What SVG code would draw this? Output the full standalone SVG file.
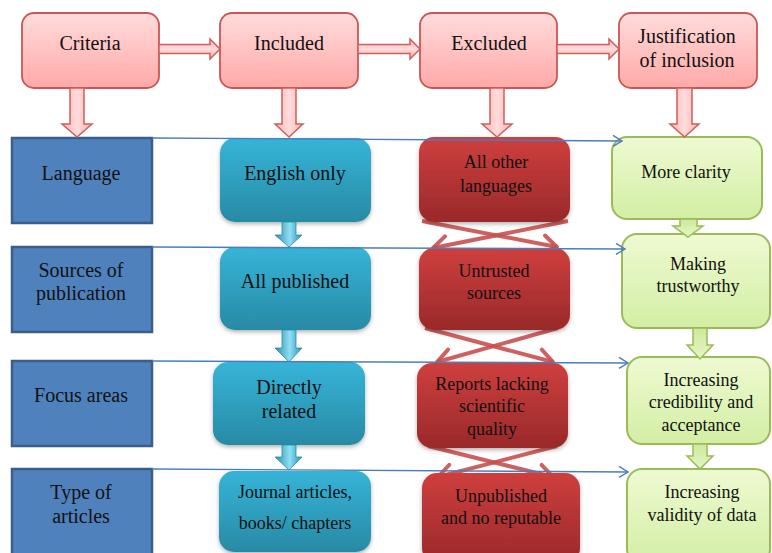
<svg xmlns="http://www.w3.org/2000/svg" width="772" height="553" viewBox="0 0 772 553">
<defs>
<linearGradient id="gPink" x1="0" y1="0" x2="0" y2="1"><stop offset="0" stop-color="#ffdcdc"/><stop offset="1" stop-color="#ffa9a8"/></linearGradient>
<linearGradient id="gPinkA" x1="0" y1="0" x2="1" y2="0"><stop offset="0" stop-color="#ffb4b3"/><stop offset="0.5" stop-color="#ffdcdc"/><stop offset="1" stop-color="#ffb4b3"/></linearGradient>
<linearGradient id="gPinkH" x1="0" y1="0" x2="0" y2="1"><stop offset="0" stop-color="#ffb4b3"/><stop offset="0.5" stop-color="#ffdcdc"/><stop offset="1" stop-color="#ffb4b3"/></linearGradient>
<linearGradient id="gTeal" x1="0" y1="0" x2="0" y2="1"><stop offset="0" stop-color="#36b4d8"/><stop offset="1" stop-color="#288aa5"/></linearGradient>
<linearGradient id="gTealA" x1="0" y1="0" x2="1" y2="0"><stop offset="0" stop-color="#2a8fad"/><stop offset="0.55" stop-color="#8ee0f4"/><stop offset="1" stop-color="#2a8fad"/></linearGradient>
<linearGradient id="gRed" x1="0" y1="0" x2="0" y2="1"><stop offset="0" stop-color="#cf3f3e"/><stop offset="1" stop-color="#99292a"/></linearGradient>
<linearGradient id="gGreen" x1="0" y1="0" x2="0" y2="1"><stop offset="0" stop-color="#eefad2"/><stop offset="1" stop-color="#d3eea4"/></linearGradient>
<linearGradient id="gGreenA" x1="0" y1="0" x2="0" y2="1"><stop offset="0" stop-color="#cde99a"/><stop offset="1" stop-color="#e6f6c4"/></linearGradient>
<filter id="sh" x="-10%" y="-10%" width="120%" height="130%"><feDropShadow dx="0" dy="2" stdDeviation="2" flood-color="#000" flood-opacity="0.3"/></filter>
<marker id="bh" markerUnits="userSpaceOnUse" markerWidth="16" markerHeight="16" viewBox="-12 -8 16 16" refX="0" refY="0" orient="auto"><path d="M-9,-5.5 L0,0 L-9,5.5" fill="none" stroke="#4a7ebb" stroke-width="1.4"/></marker>
<marker id="xh" markerUnits="userSpaceOnUse" markerWidth="26" markerHeight="26" viewBox="-20 -13 26 26" refX="0" refY="0" orient="auto"><path d="M-14,-9 L0,0 L-14,9" fill="none" stroke="#c9504e" stroke-opacity="0.9" stroke-width="4" stroke-linecap="round" stroke-linejoin="round"/></marker>
<style>
.pink{fill:url(#gPink);stroke:#cc5655;stroke-width:1.8}
.pa{fill:url(#gPinkA);stroke:#cf5e5c;stroke-width:1.5}
.pah{fill:url(#gPinkH);stroke:#cf5e5c;stroke-width:1.5}
.blue{fill:#4f81bd;stroke:#3a5e8c;stroke-width:2.5}
.teal{fill:url(#gTeal);filter:url(#sh)}
.ta{fill:url(#gTealA);stroke:#2a8aa5;stroke-width:0.8}
.red{fill:url(#gRed);filter:url(#sh)}
.green{fill:url(#gGreen);stroke:#9bbb59;stroke-width:2}
.ga{fill:url(#gGreenA);stroke:#9bbb59;stroke-width:1.5}
.bl{fill:none;stroke:#4a7ebb;stroke-width:1.4;marker-end:url(#bh)}
.xl{fill:none;stroke:#c9504e;stroke-opacity:0.9;stroke-width:4;marker-end:url(#xh)}
text{font-family:"Liberation Serif","Times New Roman",Times,Tinos,"Noto Serif","DejaVu Serif",FreeSerif,serif;fill:#111;text-anchor:middle}
.t20{font-size:20px}
.t18{font-size:18px}
</style>
</defs>
<rect width="772" height="553" fill="#ffffff"/>

<g id="connectors-under">
<line class="xl" x1="422" y1="221" x2="557" y2="247"/>
<line class="xl" x1="568" y1="221" x2="433" y2="248"/>
<line class="xl" x1="425" y1="328" x2="553" y2="362"/>
<line class="xl" x1="558" y1="328" x2="437" y2="362"/>
<line class="xl" x1="428" y1="446" x2="553" y2="477"/>
<line class="xl" x1="557" y1="446" x2="438" y2="477"/>
</g>

<g id="n-criteria"><rect class="pink" x="22" y="13" width="137" height="75" rx="12"/><text class="t20" x="90" y="50">Criteria</text></g>
<g id="n-included"><rect class="pink" x="220" y="13" width="138" height="75" rx="12"/><text class="t20" x="289" y="50">Included</text></g>
<g id="n-excluded"><rect class="pink" x="420" y="13" width="137" height="75" rx="12"/><text class="t20" x="489" y="50">Excluded</text></g>
<g id="n-justification"><rect class="pink" x="619" y="13" width="138" height="75" rx="12"/><text class="t20" x="687" y="43">Justification</text><text class="t20" x="687" y="67">of inclusion</text></g>

<g id="n-language"><rect class="blue" x="12" y="138" width="140" height="85"/><text class="t20" x="81" y="180">Language</text></g>
<g id="n-sources"><rect class="blue" x="12" y="247" width="140" height="85"/><text class="t20" x="81" y="277">Sources of</text><text class="t20" x="81" y="300">publication</text></g>
<g id="n-focus"><rect class="blue" x="12" y="361" width="140" height="85"/><text class="t20" x="81" y="402">Focus areas</text></g>
<g id="n-type"><rect class="blue" x="12" y="469" width="140" height="95"/><text class="t20" x="81" y="499">Type of</text><text class="t20" x="81" y="523">articles</text></g>

<g id="n-english"><rect class="teal" x="220" y="138" width="151" height="84" rx="15"/><text class="t20" x="295" y="180">English only</text></g>
<g id="n-allpub"><rect class="teal" x="220" y="247" width="151" height="83" rx="15"/><text class="t20" x="295" y="288">All published</text></g>
<g id="n-direct"><rect class="teal" x="213" y="362" width="152" height="83" rx="15"/><text class="t20" x="289" y="394">Directly</text><text class="t20" x="289" y="418">related</text></g>
<g id="n-journal"><rect class="teal" x="219" y="471" width="152" height="81" rx="15"/><text class="t18" x="295" y="498">Journal articles,</text><text class="t18" x="295" y="529">books/ chapters</text></g>

<g id="n-otherlang"><rect class="red" x="419" y="137" width="151" height="85" rx="15"/><text class="t18" x="496" y="168">All other</text><text class="t18" x="496" y="192">languages</text></g>
<g id="n-untrusted"><rect class="red" x="419" y="248" width="151" height="82" rx="15"/><text class="t18" x="494" y="277">Untrusted</text><text class="t18" x="494" y="299">sources</text></g>
<g id="n-reports"><rect class="red" x="417" y="363" width="151" height="85" rx="15"/><text class="t18" x="492" y="390">Reports lacking</text><text class="t18" x="492" y="412">scientific</text><text class="t18" x="492" y="435">quality</text></g>
<g id="n-unpub"><rect class="red" x="422" y="473" width="158" height="90" rx="15"/><text class="t18" x="501" y="502">Unpublished</text><text class="t18" x="501" y="524">and no reputable</text></g>

<g id="n-clarity"><rect class="green" x="612" y="137" width="150" height="82" rx="15"/><text class="t18" x="686" y="178">More clarity</text></g>
<g id="n-trust"><rect class="green" x="622" y="234" width="148" height="94" rx="15"/><text class="t18" x="698" y="270">Making</text><text class="t18" x="698" y="292">trustworthy</text></g>
<g id="n-cred"><rect class="green" x="627" y="357" width="143" height="87" rx="15"/><text class="t18" x="701" y="386">Increasing</text><text class="t18" x="701" y="408">credibility and</text><text class="t18" x="701" y="431">acceptance</text></g>
<g id="n-valid"><rect class="green" x="627" y="469" width="143" height="95" rx="15"/><text class="t18" x="702" y="498">Increasing</text><text class="t18" x="702" y="521">validity of data</text></g>

<g id="connectors">
<path class="pah" d="M159,44.5 H210 V39 L220,49 L210,59 V53.5 H159 Z"/>
<path class="pah" d="M358,44.5 H410 V39 L420,49 L410,59 V53.5 H358 Z"/>
<path class="pah" d="M557,44.5 H609 V39 L619,49 L609,59 V53.5 H557 Z"/>
<path class="pa" d="M70,88 H84 V124 H92 L77,137 L62,124 H70 Z"/>
<path class="pa" d="M282,88 H296 V124 H303 L289,137 L275,124 H282 Z"/>
<path class="pa" d="M490,88 H504 V124 H512 L497,137 L482,124 H490 Z"/>
<path class="pa" d="M677,88 H692 V124 H699 L684.5,137 L670,124 H677 Z"/>
<path class="ta" d="M282,222 H296 V235 H302 L289,247 L275,235 H282 Z"/>
<path class="ta" d="M282,330 H296 V348 H302 L289,362 L275,348 H282 Z"/>
<path class="ta" d="M282,445 H296 V457 H302 L289,470 L275,457 H282 Z"/>
<path class="ga" d="M680,219 H697 V226 H703 L688,237 L673,226 H680 Z"/>
<path class="ga" d="M693,328 H707 V345 H713 L700,359 L687,345 H693 Z"/>
<path class="ga" d="M693,444 H707 V456 H713 L700,469 L687,456 H693 Z"/>
<line class="bl" x1="152" y1="138" x2="622" y2="141"/>
<line class="bl" x1="152" y1="247" x2="625" y2="249"/>
<line class="bl" x1="152" y1="361" x2="628" y2="363"/>
<line class="bl" x1="152" y1="469" x2="628" y2="472"/>
</g>
</svg>
